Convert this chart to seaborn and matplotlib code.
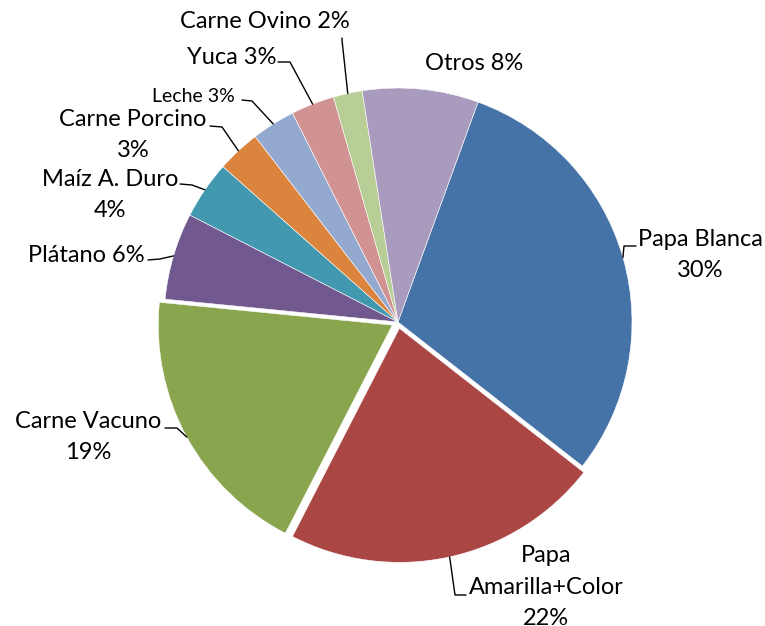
import numpy as np
import matplotlib
matplotlib.use('Agg')
from matplotlib import pyplot as plt
import seaborn as sns

# Datos (participación %)
categorias = ['Papa Blanca', 'Papa Amarilla+Color', 'Carne Vacuno', 'Plátano',
              'Maíz A. Duro', 'Carne Porcino', 'Leche', 'Yuca', 'Carne Ovino', 'Otros']
valores = [30, 22, 19, 6, 4, 3, 3, 3, 2, 8]
etiquetas = ['Papa Blanca\n30%', 'Papa\nAmarilla+Color\n22%', 'Carne Vacuno\n19%',
             'Plátano 6%', 'Maíz A. Duro\n4%', 'Carne Porcino\n3%', 'Leche 3%',
             'Yuca 3%', 'Carne Ovino 2%', 'Otros 8%']
colores = ['#4573A7', '#AA4644', '#89A54E', '#71588F', '#4298AF',
           '#DB843D', '#93A9CF', '#D19392', '#B9CD96', '#A99BBD']

sns.set_theme(style='white')
plt.rcParams['font.family'] = ['Lato', 'DejaVu Sans']

W, H = 765, 626
fig = plt.figure(figsize=(W / 100, H / 100), dpi=100)
ax = fig.add_axes([0, 0, 1, 1])

# centro y radio en pixeles (y invertida respecto a la imagen)
cx, cy, r = 398, H - 322, 234
explode = [0, 6.5, 6.5, 0, 0, 0, 0, 0, 0, 0]

wedges, _ = ax.pie(valores, colors=sns.color_palette(colores), startangle=70,
                   counterclock=False, radius=r, center=(cx, cy), explode=explode,
                   wedgeprops=dict(edgecolor='white', linewidth=0.4), frame=True)
ax.set_xlim(0, W)
ax.set_ylim(0, H)
ax.set_aspect('equal')
ax.axis('off')

# posicion del texto (centro) y codo de la linea guia, en coords de imagen
pos_texto = [(700, 255), (546, 587), (88, 437), (86, 255), (110, 195),
             (133, 135), (193, 96), (232, 57), (265, 22), (474, 64)]
codos = [[(636, 246), (624, 246)],
         [(466, 595), (455, 595)],
         [(165, 428), (177, 428)],
         [(148, 260), (160, 259)],
         [(180, 184), (192, 185)],
         [(210, 126), (222, 127)],
         [(242, 100), (252, 101)],
         [(278, 62), (290, 62)],
         [(342, 38), (342, 40)],
         None]
tamanos = [17, 17, 17, 17, 17, 17, 14, 17, 17, 17]

for w, txt, (tx, ty), codo, fs in zip(wedges, etiquetas, pos_texto, codos, tamanos):
    ax.text(tx, H - ty, txt, ha='center', va='center', fontsize=fs,
            color='black', linespacing=1.6)
    if codo is None:
        continue
    ang = np.deg2rad((w.theta1 + w.theta2) / 2)
    px, py = w.center[0] + w.r * np.cos(ang), w.center[1] + w.r * np.sin(ang)
    xs = [codo[0][0], codo[1][0], px]
    ys = [H - codo[0][1], H - codo[1][1], py]
    ax.plot(xs, ys, color='black', lw=1)

plt.savefig('out.png', dpi=100)
